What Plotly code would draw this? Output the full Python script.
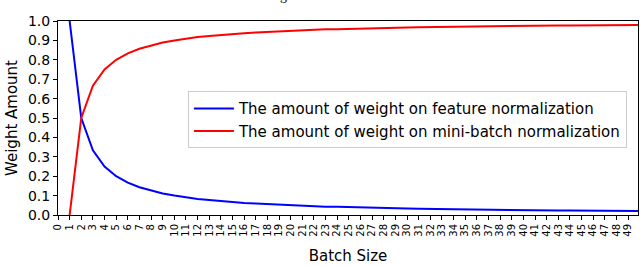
import plotly.graph_objects as go

batch_size = list(range(1, 51))
feature_weight = [1.0, 0.5, 0.333, 0.25, 0.2, 0.167, 0.143, 0.125, 0.111, 0.1,
                  0.091, 0.083, 0.077, 0.071, 0.067, 0.0625, 0.059, 0.056, 0.053, 0.05,
                  0.048, 0.045, 0.043, 0.042, 0.04, 0.038, 0.037, 0.036, 0.034, 0.033,
                  0.032, 0.031, 0.030, 0.029, 0.029, 0.028, 0.027, 0.026, 0.026, 0.025,
                  0.024, 0.024, 0.023, 0.023, 0.022, 0.022, 0.021, 0.021, 0.020, 0.020]
minibatch_weight = [0.0, 0.5, 0.667, 0.75, 0.8, 0.833, 0.857, 0.875, 0.889, 0.9,
                    0.909, 0.917, 0.923, 0.929, 0.933, 0.9375, 0.941, 0.944, 0.947, 0.95,
                    0.952, 0.955, 0.957, 0.958, 0.96, 0.962, 0.963, 0.964, 0.966, 0.967,
                    0.968, 0.969, 0.970, 0.971, 0.971, 0.972, 0.973, 0.974, 0.974, 0.975,
                    0.976, 0.976, 0.977, 0.977, 0.978, 0.978, 0.979, 0.979, 0.980, 0.980]
x_ticks = list(range(0, 50))
y_ticks = [round(0.1 * i, 1) for i in range(11)]
names = ["The amount of weight on feature normalization",
         "The amount of weight on mini-batch normalization"]

font = "DejaVu Sans"
fig = go.Figure()
fig.add_trace(go.Scatter(x=batch_size, y=feature_weight, mode="lines", name=names[0],
                         line=dict(color="#0000ff", width=2)))
fig.add_trace(go.Scatter(x=batch_size, y=minibatch_weight, mode="lines", name=names[1],
                         line=dict(color="#ff0000", width=2)))

fig.update_layout(
    width=640, height=265,
    margin=dict(l=58, r=2, t=21, b=50),
    plot_bgcolor="white", paper_bgcolor="white",
    font=dict(family=font, color="black"),
    showlegend=True,
    legend=dict(x=0.224, y=0.638, xanchor="left", yanchor="top",
                bgcolor="white", bordercolor="#cccccc", borderwidth=1,
                font=dict(size=15, family=font), tracegroupgap=0,
                itemwidth=40),
)
fig.add_annotation(text="g", xref="paper", yref="paper", x=(283 - 58) / 580, y=1.08,
                   xanchor="center", yanchor="bottom", showarrow=False,
                   font=dict(family="Liberation Serif", size=14, color="black"))
fig.update_xaxes(range=[0, 49.85], tickmode="array", tickvals=x_ticks,
                 ticktext=[str(v) for v in x_ticks], tickangle=-90,
                 tickfont=dict(size=10), ticks="outside", ticklen=4, tickcolor="black",
                 showline=True, linecolor="black", linewidth=1, mirror=True,
                 showgrid=False, zeroline=False, automargin=False,
                 title=dict(text="Batch Size", font=dict(size=15), standoff=17))
fig.update_yaxes(range=[0, 1.0], tickmode="array", tickvals=y_ticks,
                 ticktext=[f"{v:.1f}" for v in y_ticks],
                 tickfont=dict(size=14), ticks="outside", ticklen=4, tickcolor="black",
                 showline=True, linecolor="black", linewidth=1, mirror=True,
                 showgrid=False, zeroline=False, automargin=False,
                 title=dict(text="Weight Amount", font=dict(size=15), standoff=6))
fig.write_html("out.html", config={"displayModeBar": False},
               post_script="document.body.style.margin='0';document.body.style.overflow='hidden';")
